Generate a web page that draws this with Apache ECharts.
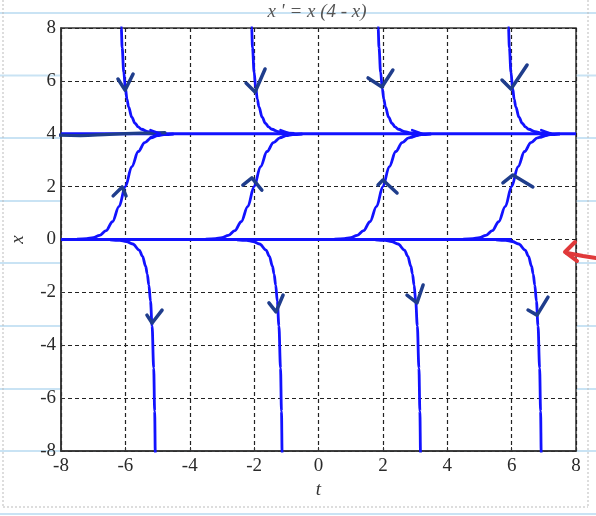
<!DOCTYPE html>
<html>
<head>
<meta charset="utf-8">
<style>html,body{margin:0;padding:0;background:#fff;}#c{width:596px;height:516px;}</style>
<script src="https://cdn.jsdelivr.net/npm/echarts@6/dist/echarts.min.js"></script>
</head>
<body>
<div id="c"></div>
<script>
// ---- data (t, x) ----
const equil4 = [[-8, 4], [8, 4]];
const equil0 = [[-8, 0], [6.0, 0]];

const mid1 = [[-7.5,0.010],[-7.2,0.033],[-7.0,0.072],[-6.8,0.157],[-6.6,0.333],[-6.4,0.672],[-6.2,1.240],[-6.0,2],[-5.8,2.760],[-5.6,3.328],[-5.4,3.667],[-5.2,3.843],[-5.0,3.928],[-4.8,3.967],[-4.5,3.990]];
const mid2 = [[-3.5,0.010],[-3.2,0.033],[-3.0,0.072],[-2.8,0.157],[-2.6,0.333],[-2.4,0.672],[-2.2,1.240],[-2.0,2],[-1.8,2.760],[-1.6,3.328],[-1.4,3.667],[-1.2,3.843],[-1.0,3.928],[-0.8,3.967],[-0.5,3.990]];
const mid3 = [[0.5,0.010],[0.8,0.033],[1.0,0.072],[1.2,0.157],[1.4,0.333],[1.6,0.672],[1.8,1.240],[2.0,2],[2.2,2.760],[2.4,3.328],[2.6,3.667],[2.8,3.843],[3.0,3.928],[3.2,3.967],[3.5,3.990]];
const mid4 = [[4.5,0.010],[4.8,0.033],[5.0,0.072],[5.2,0.157],[5.4,0.333],[5.6,0.672],[5.8,1.240],[6.0,2],[6.2,2.760],[6.4,3.328],[6.6,3.667],[6.8,3.843],[7.0,3.928],[7.2,3.967],[7.5,3.990]];

const top1 = [[-6.15,8.865],[-6.127,8.0],[-6.1,7.264],[-6.05,6.328],[-6.0,5.724],[-5.95,5.309],[-5.9,5.012],[-5.8,4.626],[-5.7,4.399],[-5.6,4.259],[-5.5,4.170],[-5.3,4.075],[-5.1,4.033],[-4.8,4.010]];
const top2 = [[-2.1,8.865],[-2.077,8.0],[-2.05,7.264],[-2.0,6.328],[-1.95,5.724],[-1.9,5.309],[-1.85,5.012],[-1.75,4.626],[-1.65,4.399],[-1.55,4.259],[-1.45,4.170],[-1.25,4.075],[-1.05,4.033],[-0.75,4.010]];
const top3 = [[1.83,8.865],[1.853,8.0],[1.88,7.264],[1.93,6.328],[1.98,5.724],[2.03,5.309],[2.08,5.012],[2.18,4.626],[2.28,4.399],[2.38,4.259],[2.48,4.170],[2.68,4.075],[2.88,4.033],[3.18,4.010]];
const top4 = [[5.88,8.865],[5.903,8.0],[5.93,7.264],[5.98,6.328],[6.03,5.724],[6.08,5.309],[6.13,5.012],[6.23,4.626],[6.33,4.399],[6.43,4.259],[6.53,4.170],[6.73,4.075],[6.93,4.033],[7.23,4.010]];

const bot1 = [[-6.47,-0.010],[-6.17,-0.033],[-5.97,-0.075],[-5.77,-0.170],[-5.57,-0.399],[-5.47,-0.626],[-5.37,-1.012],[-5.32,-1.309],[-5.27,-1.724],[-5.22,-2.328],[-5.17,-3.264],[-5.12,-4.866],[-5.09,-6.493],[-5.07,-8.134],[-5.06,-9.23]];
const bot2 = [[-2.53,-0.010],[-2.23,-0.033],[-2.03,-0.075],[-1.83,-0.170],[-1.63,-0.399],[-1.53,-0.626],[-1.43,-1.012],[-1.38,-1.309],[-1.33,-1.724],[-1.28,-2.328],[-1.23,-3.264],[-1.18,-4.866],[-1.15,-6.493],[-1.13,-8.134],[-1.12,-9.23]];
const bot3 = [[1.77,-0.010],[2.07,-0.033],[2.27,-0.075],[2.47,-0.170],[2.67,-0.399],[2.77,-0.626],[2.87,-1.012],[2.92,-1.309],[2.97,-1.724],[3.02,-2.328],[3.07,-3.264],[3.12,-4.866],[3.15,-6.493],[3.17,-8.134],[3.18,-9.23]];
const bot4 = [[5.52,-0.010],[5.82,-0.033],[6.02,-0.075],[6.22,-0.170],[6.42,-0.399],[6.52,-0.626],[6.62,-1.012],[6.67,-1.309],[6.72,-1.724],[6.77,-2.328],[6.82,-3.264],[6.87,-4.866],[6.90,-6.493],[6.92,-8.134],[6.93,-9.23]];

// handwritten arrows: [t1,x1, tTip,xTip, t2,x2]
const handArrows = [
  [-6.23,6.07, -6.01,5.65, -5.76,6.26],
  [-2.25,5.92, -1.97,5.58, -1.66,6.45],
  [1.54,6.11, 1.97,5.77, 2.31,6.41],
  [5.70,6.03, 5.98,5.69, 6.48,6.60],
  [-6.38,1.65, -6.10,1.99, -5.98,1.65],
  [-2.35,2.06, -2.07,2.33, -1.76,1.87],
  [1.85,2.06, 2.00,2.25, 2.44,1.76],
  [5.73,2.14, 6.04,2.44, 6.66,1.99],
  [-5.33,-2.86, -5.17,-3.16, -4.86,-2.67],
  [-1.54,-2.40, -1.32,-2.74, -1.10,-2.10],
  [2.75,-2.10, 3.06,-2.40, 3.25,-1.72],
  [6.51,-2.67, 6.79,-2.86, 7.13,-2.18]
];
const chevrons = [
  [-5.22,4.14, -4.92,4.0, -5.22,3.86],
  [-1.18,4.14, -0.88,4.0, -1.18,3.86],
  [2.91,4.14, 3.21,4.0, 2.91,3.86],
  [6.92,4.14, 7.22,4.0, 6.92,3.86]
];
const handLine4 = [[-8.28,3.96],[-7.4,3.93],[-6.5,3.98],[-5.5,4.02],[-4.77,4.04]];
const tickValues = [-8,-6,-4,-2,0,2,4,6,8];

const chart = echarts.init(document.getElementById('c'), null, {renderer:'canvas'});
const blue = '#1212ff';
const navy = '#1f3d8c';
const serif = 'Liberation Serif';
function curve(d){
  return {type:'line', data:d, showSymbol:false, smooth:0.35, smoothMonotone:'x',
    lineStyle:{color:blue, width:2.8}, silent:true, z:3};
}
function arrowSeries(d, color, w){
  return {type:'custom', data:d, clip:false, silent:true, z:6,
    renderItem:function(params, api){
      const p=[api.coord([api.value(0),api.value(1)]), api.coord([api.value(2),api.value(3)]), api.coord([api.value(4),api.value(5)])];
      return {type:'polyline', shape:{points:p}, style:{stroke:color, lineWidth:w, fill:null, lineCap:'round', lineJoin:'round'}};
    }};
}
const paperLines = [13, 75.6, 138, 201, 263, 326, 389, 451, 514].map(y=>({
  type:'line', z:-10, silent:true, shape:{x1:0,y1:y,x2:596,y2:y}, style:{stroke:'#c9e3f4', lineWidth:2}
}));
const axisCommon = {
  type:'value', min:-8, max:8, interval:2,
  axisLine:{show:true, onZero:false, lineStyle:{color:'#333', width:1.5}},
  axisTick:{show:true, inside:true, length:4, lineStyle:{color:'#333'}},
  splitLine:{show:true, lineStyle:{type:[4,3], color:'#222', width:1.2}},
  nameLocation:'middle',
  nameTextStyle:{fontFamily:serif, fontStyle:'italic', fontSize:19, color:'#333'}
};
chart.setOption({
  animation:false,
  backgroundColor:'#fff',
  grid:{left:61, right:20, top:28, bottom:65, show:true, backgroundColor:'#fff', borderColor:'#333', borderWidth:1.5},
  xAxis:Object.assign({}, axisCommon, {name:'t', nameGap:27,
    axisLabel:{fontFamily:serif, fontSize:19, color:'#2a2a2a', margin:6, formatter:v=>String(v)}}),
  yAxis:Object.assign({}, axisCommon, {name:'x', nameGap:34, nameRotate:90,
    axisLabel:{fontFamily:serif, fontSize:19, color:'#2a2a2a', margin:5, formatter:v=>String(v)}}),
  graphic:[].concat(paperLines, [
    {type:'line', z:-10, silent:true, shape:{x1:3,y1:0,x2:3,y2:507}, style:{stroke:'#bbb', lineWidth:1, lineDash:[2,2]}},
    {type:'line', z:-10, silent:true, shape:{x1:3,y1:507,x2:588,y2:507}, style:{stroke:'#bbb', lineWidth:1, lineDash:[2,2]}},
    {type:'line', z:-10, silent:true, shape:{x1:588,y1:0,x2:588,y2:507}, style:{stroke:'#bbb', lineWidth:1, lineDash:[2,2]}},
    {type:'text', z:50, silent:true, style:{x:317, y:12, text:"x ' = x (4 - x)", textAlign:'center', textVerticalAlign:'middle',
      font:'italic 19px "Liberation Serif"', fill:'#555'}},
    {type:'polyline', z:100, silent:true, shape:{points:[[596,258],[583,256],[567,253]]}, style:{stroke:'#e0393a', lineWidth:4, fill:null, lineCap:'round', lineJoin:'round'}},
    {type:'polyline', z:100, silent:true, shape:{points:[[575,242],[565,252],[577,261]]}, style:{stroke:'#e0393a', lineWidth:4, fill:null, lineCap:'round', lineJoin:'round'}}
  ]),
  series:[
    curve(equil4), curve(equil0),
    curve(mid1), curve(mid2), curve(mid3), curve(mid4),
    curve(top1), curve(top2), curve(top3), curve(top4),
    curve(bot1), curve(bot2), curve(bot3), curve(bot4),
    {type:'line', data:handLine4, showSymbol:false, smooth:0.4, clip:false, silent:true, z:5,
      lineStyle:{color:navy, width:3.2, cap:'round'}},
    arrowSeries(handArrows, navy, 3.5),
    arrowSeries(chevrons, blue, 2.5)
  ]
});
</script>
</body>
</html>
